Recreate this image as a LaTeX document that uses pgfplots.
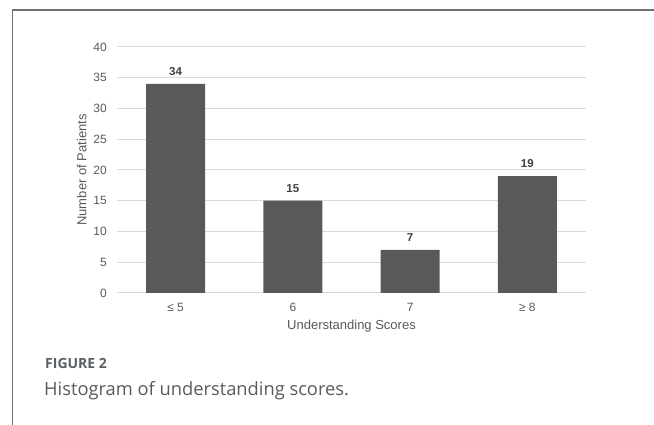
\documentclass[border=0pt]{standalone}
\usepackage{fontspec}
\usepackage{graphicx}
\usepackage{pgfplots}
\pgfplotsset{compat=1.18}
\setmainfont{Liberation Sans}
\newfontfamily\capfont{Open Sans}
\definecolor{barc}{HTML}{595959}
\definecolor{gridc}{HTML}{D9D9D9}
\definecolor{tickc}{HTML}{595959}
\definecolor{labc}{HTML}{404040}
\definecolor{framec}{HTML}{707070}
\definecolor{figc}{HTML}{5A5F66}
\definecolor{captc}{HTML}{5A5A5A}
\begin{document}
\begin{tikzpicture}
\path[use as bounding box] (0,0) rectangle (654pt,425pt);
\draw[framec, line width=1.2pt] (12.7pt,0) -- (12.7pt,415pt) -- (654pt,415pt);
\begin{axis}[
  scale only axis, width=469pt, height=246pt,
  at={(117pt,132pt)}, anchor=south west,
  xmin=-0.5, xmax=3.5, ymin=0, ymax=40,
  xtick={0,1,2,3}, xticklabels={≤ 5,6,7,≥ 8},
  ytick={0,5,...,40},
  ymajorgrids, grid style={draw=gridc, line width=1pt},
  axis line style={draw=none},
  major tick length=0pt,
  /pgf/number format/assume math mode=true,
  tick label style={font=\fontsize{12}{14}\selectfont, text=tickc, inner sep=0pt},
  yticklabel style={xshift=-10pt},
  xticklabel style={yshift=-9.7pt},
  ybar, bar width=59pt,
  nodes near coords,
  nodes near coords style={font=\bfseries\fontsize{11.5}{13}\selectfont, text=labc, inner sep=0pt, yshift=8pt},
  xlabel={Understanding Scores},
  ylabel={Number of Patients},
  label style={font=\fontsize{13}{15}\selectfont, text=tickc, inner sep=0pt},
  xlabel style={at={(axis description cs:0.5,-0.1098)}, anchor=north},
  ylabel style={at={(axis description cs:-0.0646,0.5)}, anchor=south},
]
\addplot[fill=barc, draw=none] coordinates {(0,34) (1,15) (2,7) (3,19)};
\end{axis}
\node[anchor=base west, inner sep=0pt, text=figc, font=\capfont\bfseries\fontsize{14}{16}\selectfont] at (45pt,56pt) {FIGURE 2};
\node[anchor=base west, inner sep=0pt, text=captc, font=\capfont\fontsize{18.3}{21}\selectfont] at (44pt,29.3pt) {Histogram of understanding scores.};
\end{tikzpicture}
\end{document}
